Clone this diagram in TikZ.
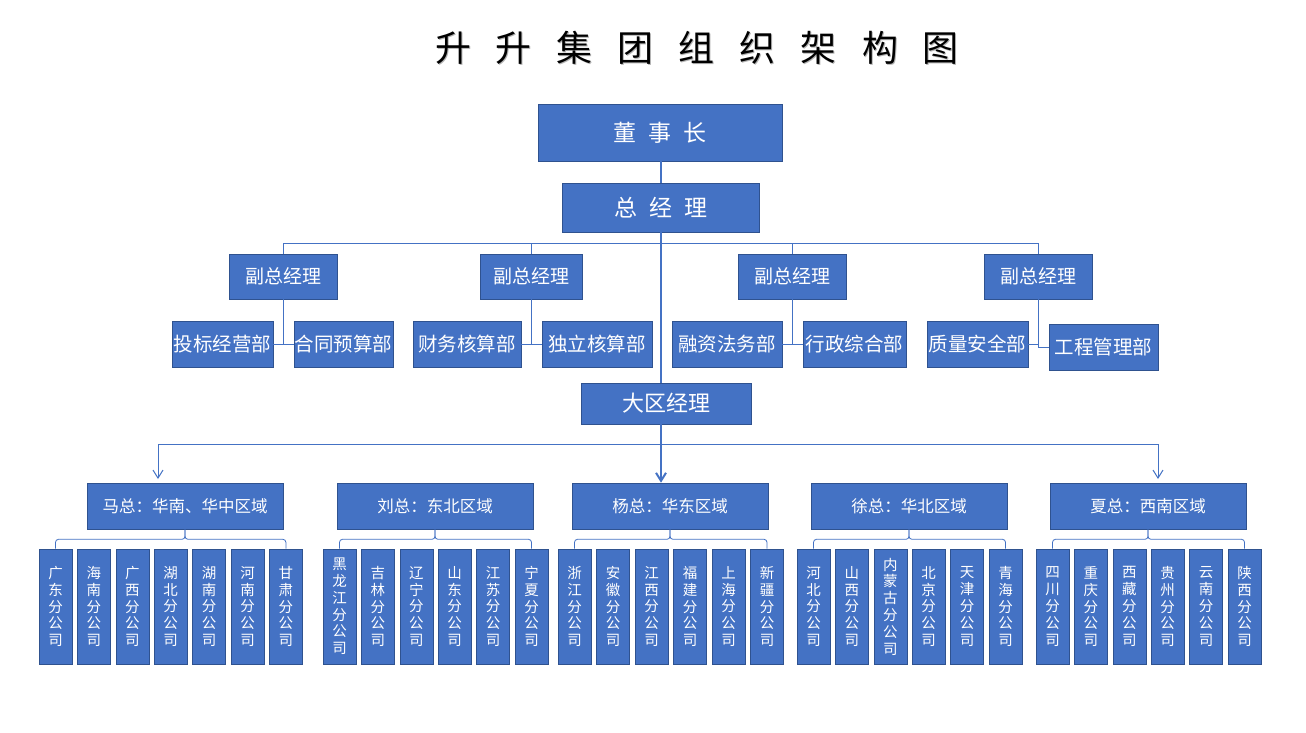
\documentclass[tikz,border=0pt]{standalone}
\usepackage{fontspec}
\setmainfont{Noto Sans CJK SC}
\usetikzlibrary{arrows.meta,calc}
\definecolor{boxblue}{HTML}{4472C4}
\definecolor{boxedge}{HTML}{2F528F}
\definecolor{linkblue}{HTML}{4472C4}
\begin{document}
\begin{tikzpicture}[x=1pt,y=-1pt,
  box/.style={fill=boxblue, draw=boxedge, line width=0.6pt, text=white, inner sep=0pt, anchor=center},
  sz/.style 2 args={minimum width=#1, minimum height=#2},
  conn/.style={draw=linkblue, line width=1pt},
  trunk/.style={draw=linkblue, line width=2pt},
  barb/.style={-{Straight Barb[length=8pt,width=10pt]}},
  br/.style={box, sz={33}{115}, align=center, font=\fontsize{14.5}{16.8}\selectfont},
  reg/.style={box, sz={196}{46}, font=\fontsize{16.5}{18}\selectfont},
  dept/.style={box, font=\fontsize{19.5}{22}\selectfont},
  vp/.style={box, sz={108}{45}, font=\fontsize{19}{22}\selectfont},
  ttl/.style={font=\fontsize{36}{40}\selectfont}]
\useasboundingbox[fill=white] (0,0) rectangle (1306,733);

% title
\node[ttl, text=black!30] (titleshadow) at (698,49)
  {升\hspace{25pt}升\hspace{25pt}集\hspace{25pt}团\hspace{25pt}组\hspace{25pt}织\hspace{25pt}架\hspace{25pt}构\hspace{25pt}图};
\node[ttl, text=black] (title) at (697,48)
  {升\hspace{25pt}升\hspace{25pt}集\hspace{25pt}团\hspace{25pt}组\hspace{25pt}织\hspace{25pt}架\hspace{25pt}构\hspace{25pt}图};

% top
\node[box, sz={244}{57}, font=\fontsize{23}{26}\selectfont] (dsz) at (660,132.5) {董\hspace{12pt}事\hspace{12pt}长};
\node[box, sz={197}{49}, font=\fontsize{23}{26}\selectfont] (zjl) at (661,207.5) {总\hspace{12pt}经\hspace{12pt}理};

% vice GMs
\node[vp] (fz1) at (283,276.5) {副总经理};
\node[vp, sz={102}{45}] (fz2) at (531,276.5) {副总经理};
\node[vp] (fz3) at (792,276.5) {副总经理};
\node[vp] (fz4) at (1038,276.5) {副总经理};

% departments
\node[dept, sz={101}{46}] (d1) at (222.5,344) {投标经营部};
\node[dept, sz={99}{46}]  (d2) at (343.5,344) {合同预算部};
\node[dept, sz={108}{46}] (d3) at (467,344) {财务核算部};
\node[dept, sz={110}{46}] (d4) at (597,344) {独立核算部};
\node[dept, sz={110}{46}] (d5) at (727,344) {融资法务部};
\node[dept, sz={103}{46}] (d6) at (854.5,344) {行政综合部};
\node[dept, sz={101}{46}] (d7) at (977.5,344) {质量安全部};
\node[dept, sz={109}{46}] (d8) at (1103.5,347) {工程管理部};

% regional manager
\node[box, sz={170}{41}, font=\fontsize{22}{24}\selectfont] (dq) at (666,403.5) {大区经理};

% regions
\node[reg] (r1) at (185,506) {马总：华南、华中区域};
\node[reg] (r2) at (435,506) {刘总：东北区域};
\node[reg] (r3) at (670,506) {杨总：华东区域};
\node[reg] (r4) at (909,506) {徐总：华北区域};
\node[reg] (r5) at (1148,506) {夏总：西南区域};

% branches
\foreach \t [count=\i from 0] in {{广\\东\\分\\公\\司},{海\\南\\分\\公\\司},{广\\西\\分\\公\\司},{湖\\北\\分\\公\\司},{湖\\南\\分\\公\\司},{河\\南\\分\\公\\司},{甘\\肃\\分\\公\\司}}
  \node[br] (r1b\i) at ({55.5+38.4*\i},606.5) {\t};
\foreach \t [count=\i from 0] in {{黑\\龙\\江\\分\\公\\司},{吉\\林\\分\\公\\司},{辽\\宁\\分\\公\\司},{山\\东\\分\\公\\司},{江\\苏\\分\\公\\司},{宁\\夏\\分\\公\\司}}
  \node[br] (r2b\i) at ({339.5+38.4*\i},606.5) {\t};
\foreach \t [count=\i from 0] in {{浙\\江\\分\\公\\司},{安\\徽\\分\\公\\司},{江\\西\\分\\公\\司},{福\\建\\分\\公\\司},{上\\海\\分\\公\\司},{新\\疆\\分\\公\\司}}
  \node[br] (r3b\i) at ({574.5+38.5*\i},606.5) {\t};
\foreach \t [count=\i from 0] in {{河\\北\\分\\公\\司},{山\\西\\分\\公\\司},{内\\蒙\\古\\分\\公\\司},{北\\京\\分\\公\\司},{天\\津\\分\\公\\司},{青\\海\\分\\公\\司}}
  \node[br] (r4b\i) at ({813.5+38.4*\i},606.5) {\t};
\foreach \t [count=\i from 0] in {{四\\川\\分\\公\\司},{重\\庆\\分\\公\\司},{西\\藏\\分\\公\\司},{贵\\州\\分\\公\\司},{云\\南\\分\\公\\司},{陕\\西\\分\\公\\司}}
  \node[br] (r5b\i) at ({1052.5+38.4*\i},606.5) {\t};

% trunk
\draw[trunk] (zjl.north |- dsz.south) -- (zjl.north);
\draw[trunk] (zjl.south) -- (zjl.south |- dq.north);
\draw[trunk, barb] (zjl.south |- dq.south) -- (zjl.south |- r3.north);

% vice GM links
\foreach \f in {fz1,fz2,fz3,fz4}
  \draw[conn] (zjl.south) ++(0,11) -| (\f.north);

% department links
\draw[conn] (fz1.south) -- (fz1.south |- d1.east);
\draw[conn] (d1.east) -- (d2.west);
\draw[conn] (fz2.south) -- (fz2.south |- d3.east);
\draw[conn] (d3.east) -- (d4.west);
\draw[conn] (fz3.south) -- (fz3.south |- d5.east);
\draw[conn] (d5.east) -- (d6.west);
\draw[conn] (fz4.south) |- (d8.west);
\draw[conn] (d7.east) -- (fz4.south |- d7.east);

% region links
\coordinate (hub) at ($(zjl.south |- dq.south)+(0,20)$);
\coordinate (a1) at (158,483);
\coordinate (a5) at (1158,483);
\draw[conn, barb, shorten >=4pt] (hub) -| (a1);
\draw[conn, barb, shorten >=4pt] (hub) -| (a5);

% brackets
\foreach \r/\l/\e in {r1/r1b0/r1b6, r2/r2b0/r2b5, r3/r3b0/r3b5, r4/r4b0/r4b5, r5/r5b0/r5b5} {
  \draw[conn, line width=0.8pt, rounded corners=3pt] (\l.north) |- ($(\r.south)+(0,10)$) -- (\r.south);
  \draw[conn, line width=0.8pt, rounded corners=3pt] (\e.north) |- ($(\r.south)+(0,10)$) -- (\r.south);
}
\end{tikzpicture}
\end{document}
